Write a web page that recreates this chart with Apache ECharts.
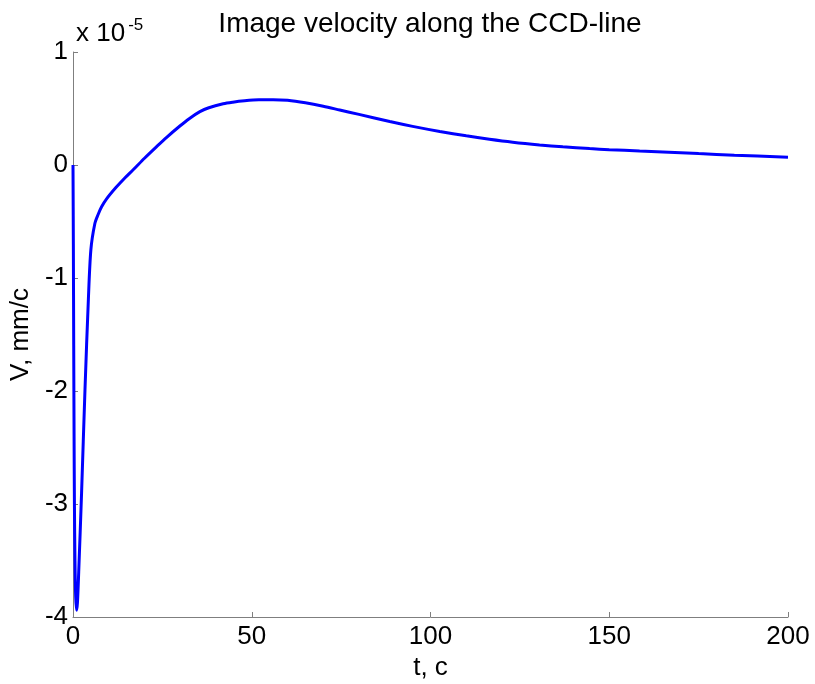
<!DOCTYPE html>
<html>
<head>
<meta charset="utf-8">
<script src="https://cdn.jsdelivr.net/npm/echarts@6/dist/echarts.min.js"></script>
<style>
  html, body { margin: 0; padding: 0; background: #fff; }
  #chart { width: 815px; height: 684px; }
</style>
</head>
<body>
<div id="chart"></div>
<script>
// Time, seconds
const timeS = [
  0, 0.1, 0.2, 0.3, 0.4, 0.55, 0.75, 1.0, 1.25, 1.6, 2.4, 3.35, 4.3, 5.0, 6.1,
  7.0, 8.0, 9.4, 12, 14.5, 16.9, 20, 23.4, 26.2, 29.9, 32.5, 35.5, 38, 42, 44.7, 48, 52, 56, 60,
  65, 70, 74.6, 80, 88.6, 95, 102.6, 110, 116.5, 123, 130.5, 137, 144.5, 150,
  158.5, 165, 175, 185, 200
];
// Image velocity, in units of 1e-5 mm/c
const velocityE5 = [
  0, -0.7, -1.6, -2.4, -3.0, -3.5, -3.82, -3.94, -3.87, -3.6, -2.9, -1.99, -1.19, -0.75, -0.52,
  -0.44, -0.37, -0.30, -0.20, -0.115, -0.04, 0.06, 0.163, 0.245, 0.345, 0.41, 0.472, 0.507, 0.542, 0.556, 0.568, 0.577, 0.578, 0.572,
  0.55, 0.52, 0.487, 0.448, 0.385, 0.342, 0.297, 0.258, 0.228, 0.202, 0.178, 0.161, 0.145, 0.136,
  0.124, 0.116, 0.101, 0.087, 0.068
];
const titleText = 'Image velocity along the CCD-line';
const xName = 't, c';
const yName = 'V, mm/c';
const exponentText = '-5';

const points = timeS.map((t, i) => [t, velocityE5[i]]);

const chart = echarts.init(document.getElementById('chart'), null, { renderer: 'canvas' });
const font = 'Liberation Sans, Arial, Helvetica, sans-serif';
const axisGray = '#7f7f7f';

chart.setOption({
  animation: false,
  backgroundColor: '#ffffff',
  title: {
    text: titleText,
    left: 425, textAlign: 'center', top: 5,
    textStyle: { fontFamily: font, fontSize: 28, fontWeight: 'normal', color: '#000' }
  },
  grid: { left: 73, top: 52, width: 715, height: 565, containLabel: false, outerBoundsMode: 'none' },
  xAxis: {
    type: 'value', min: 0, max: 200, interval: 50,
    name: xName, nameLocation: 'middle', nameGap: 30,
    nameTextStyle: { fontFamily: font, fontSize: 26, color: '#000' },
    axisLine: { show: true, onZero: false, lineStyle: { color: axisGray, width: 1 } },
    axisTick: { show: true, inside: true, length: 5, lineStyle: { color: axisGray } },
    axisLabel: { fontFamily: font, fontSize: 26, color: '#000', margin: 7 },
    splitLine: { show: false }
  },
  yAxis: {
    type: 'value', min: -4, max: 1, interval: 1,
    name: yName, nameLocation: 'middle', nameGap: 36, nameRotate: 90,
    nameTextStyle: { fontFamily: font, fontSize: 26, color: '#000' },
    axisLine: { show: true, onZero: false, lineStyle: { color: axisGray, width: 1 } },
    axisTick: { show: true, inside: true, length: 5, lineStyle: { color: axisGray } },
    axisLabel: { fontFamily: font, fontSize: 26, color: '#000', margin: 5 },
    splitLine: { show: false }
  },
  graphic: [{
    type: 'text',
    left: 76, top: 17,
    style: {
      text: 'x 10{sup|' + exponentText + '}',
      rich: {
        sup: { fontFamily: font, fontSize: 17, verticalAlign: 'top', padding: [0, 0, 16, 3], fill: '#000' }
      },
      fontFamily: font, fontSize: 26, fill: '#000'
    }
  }],
  series: [{
    type: 'line',
    data: points,
    showSymbol: false,
    smooth: 0.3,
    lineStyle: { color: '#0000ff', width: 3 },
    itemStyle: { color: '#0000ff' },
    clip: false
  }]
});
</script>
</body>
</html>
